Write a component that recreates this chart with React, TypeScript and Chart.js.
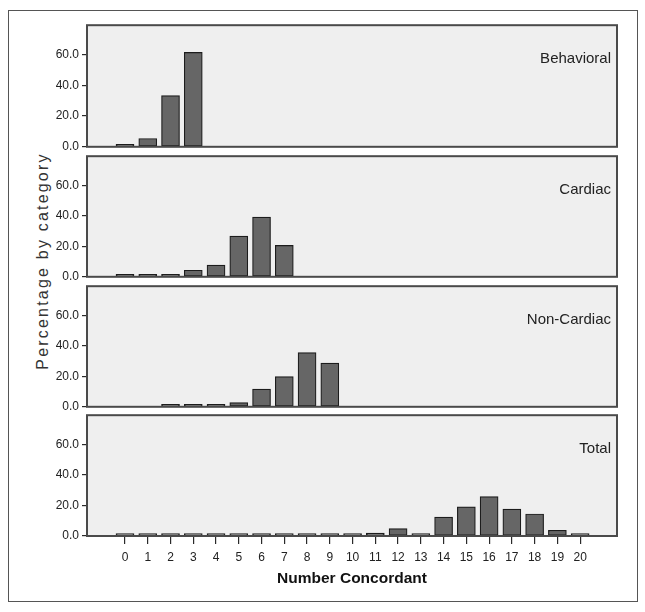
import React, { useEffect, useRef } from "react";
import { Chart, registerables } from "chart.js";

Chart.register(...registerables);

// ---------------- data ----------------
const categories = [0, 1, 2, 3, 4, 5, 6, 7, 8, 9, 10, 11, 12, 13, 14, 15, 16, 17, 18, 19, 20];
const panelNames = ["Behavioral", "Cardiac", "Non-Cardiac", "Total"];
const behavioral = [1.1, 5.4, 33.3, 61.3, null, null, null, null, null, null, null, null, null, null, null, null, null, null, null, null, null];
const cardiac = [0.5, 0.5, 0.5, 4.3, 7.7, 26.7, 39.1, 20.6, null, null, null, null, null, null, null, null, null, null, null, null, null];
const nonCardiac = [null, null, 0.6, 0.9, 1.5, 2.8, 11.6, 19.8, 35.5, 28.6, null, null, null, null, null, null, null, null, null, null, null];
const total = [0.4, 0.4, 0.4, 0.4, 0.4, 0.4, 0.4, 0.4, 0.4, 1.0, 0.4, 1.9, 4.9, 0.4, 12.3, 19.1, 25.8, 17.6, 14.4, 3.7, 0.4];
const yTicks = [0, 20, 40, 60];
const yMax = 79;
const xMin = -1.67;
const xMax = 21.62;
const xTitle = "Number Concordant";
const yTitle = "Percentage by category";

const series = [behavioral, cardiac, nonCardiac, total];

// ---------------- layout ----------------
const W = 645;
const PLOT_LEFT = 87;
const PLOT_RIGHT = 617;
const PANEL_TOPS = [25, 156, 286, 415];
const PANEL_BASES = [147, 277, 407, 536];
const PAD = 10;
const CANVAS_BOTTOM = 598;

const FONT = "'Liberation Sans', Arial, sans-serif";

const panelPlugin = {
  id: "panelDeco",
  beforeDraw(chart: any) {
    const { ctx, chartArea: a } = chart;
    ctx.save();
    ctx.fillStyle = "#efefef";
    ctx.fillRect(a.left, a.top, a.right - a.left, a.bottom - a.top);
    ctx.restore();
  },
  afterDatasetsDraw(chart: any, _args: any, opts: any) {
    const { ctx, chartArea: a } = chart;
    ctx.save();
    ctx.strokeStyle = "#4a4a4a";
    ctx.lineWidth = 2;
    ctx.strokeRect(a.left, a.top, a.right - a.left, a.bottom - a.top);
    ctx.fillStyle = "#222";
    ctx.font = `15px ${FONT}`;
    ctx.textAlign = "right";
    ctx.textBaseline = "middle";
    ctx.fillText(opts.label, a.right - 6, a.top + 34);
    ctx.restore();
  },
};

function Panel({ idx }: { idx: number }) {
  const ref = useRef<HTMLCanvasElement>(null);
  const top = PANEL_TOPS[idx];
  const base = PANEL_BASES[idx];
  const isLast = idx === series.length - 1;
  const cTop = top - PAD;
  const height = isLast ? CANVAS_BOTTOM - cTop : base - top + 2 * PAD;

  useEffect(() => {
    const values = series[idx];
    const chart = new Chart(ref.current as HTMLCanvasElement, {
      type: "bar",
      data: {
        datasets: [
          {
            data: categories.map((c, i) => ({ x: c, y: values[i] })) as any,
            backgroundColor: "#666666",
            borderColor: "#1c1c1c",
            borderWidth: 1.2,
            borderSkipped: false,
            barThickness: 18,
            minBarLength: 2.5,
          },
        ],
      },
      plugins: [panelPlugin],
      options: {
        responsive: false,
        animation: false,
        layout: {
          padding: { left: 0, right: W - PLOT_RIGHT, top: PAD, bottom: isLast ? 0 : PAD },
        },
        plugins: {
          legend: { display: false },
          tooltip: { enabled: false },
          panelDeco: { label: panelNames[idx] },
        } as any,
        scales: {
          x: {
            type: "linear",
            min: xMin,
            max: xMax,
            offset: false,
            display: isLast,
            afterBuildTicks: (s: any) => {
              s.ticks = categories.map((v) => ({ value: v }));
            },
            afterFit: (s: any) => {
              if (isLast) s.height = CANVAS_BOTTOM - base;
            },
            grid: {
              offset: false,
              drawOnChartArea: false,
              drawTicks: true,
              tickLength: 8,
              color: "#2a2a2a",
              lineWidth: 1.2,
            },
            border: { display: false },
            ticks: {
              autoSkip: false,
              maxRotation: 0,
              padding: 6,
              color: "#222",
              font: { family: FONT, size: 12 },
              callback: (v: any) => String(v),
            },
            title: {
              display: true,
              text: xTitle,
              color: "#111",
              font: { family: FONT, size: 15.5, weight: "bold" },
              padding: { top: 0, bottom: 10 },
            },
          },
          y: {
            min: 0,
            max: yMax,
            afterBuildTicks: (s: any) => {
              s.ticks = yTicks.map((v) => ({ value: v }));
            },
            afterFit: (s: any) => {
              s.width = PLOT_LEFT;
            },
            grid: {
              drawOnChartArea: false,
              drawTicks: true,
              tickLength: 5,
              color: "#2a2a2a",
              lineWidth: 1.2,
            },
            border: { display: false },
            ticks: {
              padding: 3,
              color: "#222",
              font: { family: FONT, size: 12 },
              callback: (v: any) => Number(v).toFixed(1),
            },
          },
        },
      },
    });
    return () => chart.destroy();
  }, [idx]);

  return (
    <canvas
      ref={ref}
      width={W}
      height={height}
      style={{ position: "absolute", left: 0, top: cTop, width: W, height }}
    />
  );
}

export default function App() {
  return (
    <div style={{ position: "absolute", left: 0, top: 0, width: W, height: 612, background: "#fff" }}>
      <div
        style={{
          position: "absolute",
          left: 8,
          top: 10,
          width: 630,
          height: 592,
          boxSizing: "border-box",
          border: "1px solid #555",
        }}
      />
      <div
        style={{
          position: "absolute",
          left: 43,
          top: 261,
          transform: "translate(-50%, -50%) rotate(-90deg)",
          whiteSpace: "nowrap",
          fontFamily: FONT,
          fontSize: 16,
          letterSpacing: 2.2,
          color: "#333",
          lineHeight: 1,
        }}
      >
        {yTitle}
      </div>
      {series.map((_, i) => (
        <Panel key={i} idx={i} />
      ))}
    </div>
  );
}
